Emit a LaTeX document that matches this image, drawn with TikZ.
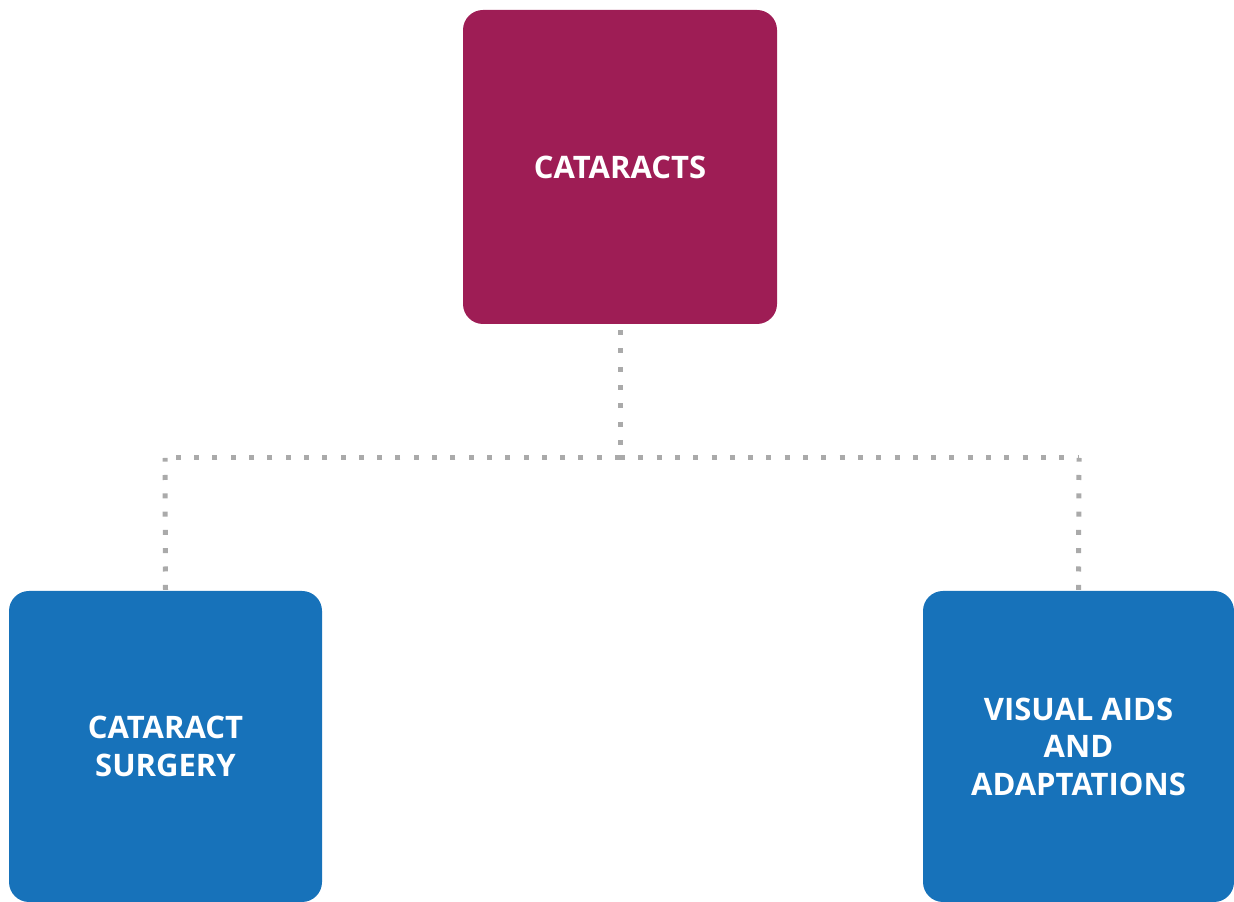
\documentclass[tikz,border=0pt]{standalone}
\usepackage{fontspec}
\setmainfont{Open Sans}
\definecolor{topc}{HTML}{9E1D55}
\definecolor{boxc}{HTML}{1772BA}
\definecolor{dotc}{HTML}{AAAAAA}
\begin{document}
\begin{tikzpicture}[x=1pt,y=1pt,
  box/.style={rectangle, rounded corners=20pt, inner sep=0pt, align=center,
    text=white, font=\fontsize{31}{37.5}\selectfont\bfseries},
  dotline/.style={draw=dotc, line width=5pt, dash pattern=on 5pt off 13.3pt}]
\useasboundingbox (0,0) rectangle (1234,902);
\node[box, fill=topc, minimum width=314pt, minimum height=314pt] (top) at (620,735) {CATARACTS};
\node[box, fill=boxc, minimum width=313pt, minimum height=311pt] (left) at (165.5,155.5) {CATARACT\\SURGERY};
\node[box, fill=boxc, minimum width=311pt, minimum height=311pt] (right) at (1078.5,155.5) {VISUAL AIDS\\AND\\ADAPTATIONS};
\coordinate (j) at (620,444);
\coordinate (jl) at (165,444);
\coordinate (jr) at (1079,444);
\draw[dotline] ([yshift=-6pt]top.south) -- (j);
\draw[dotline] (j) -- (jl);
\draw[dotline] (j) -- (jr);
\draw[dotline] ([yshift=1pt]left.north) -- (jl);
\draw[dotline] ([yshift=1pt]right.north) -- (jr);
\end{tikzpicture}
\end{document}
